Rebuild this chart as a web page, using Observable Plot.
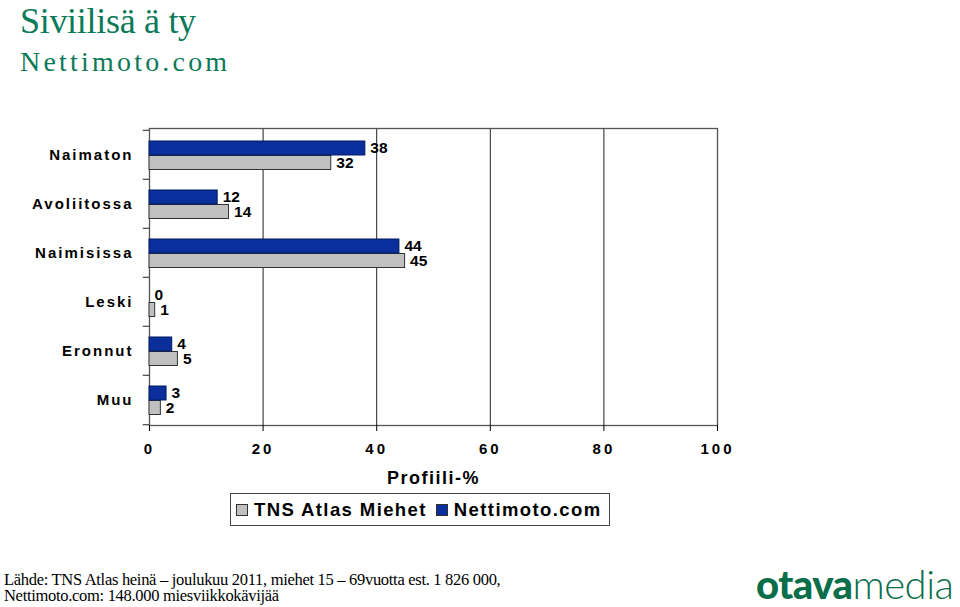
<!DOCTYPE html>
<html><head><meta charset="utf-8">
<script src="https://cdn.jsdelivr.net/npm/d3@7"></script>
<script src="https://cdn.jsdelivr.net/npm/@observablehq/plot@0.6"></script>
<style>
body{margin:0;background:#fff;}
#wrap{position:relative;width:960px;height:607px;overflow:hidden;font-family:"Liberation Sans",Arial,sans-serif;color:#000;}
#chart{position:absolute;left:0;top:0;}
.title{position:absolute;left:20px;top:2px;line-height:38px;font-family:"Liberation Serif",serif;color:#0b7a57;font-size:36px;letter-spacing:-0.3px;white-space:pre;}
.subtitle{position:absolute;left:20px;top:46px;line-height:32px;font-family:"Liberation Serif",serif;color:#0b7a57;font-size:28px;letter-spacing:3.2px;white-space:pre;}
.legend{position:absolute;left:230px;top:493px;width:378px;height:31px;border:1px solid #444;font-weight:bold;font-size:18.5px;letter-spacing:1.4px;display:flex;align-items:center;box-sizing:content-box;}
.legend .sw{display:inline-block;width:10px;height:10px;border:1px solid #333;margin:0 6px 0 5px;}
.legend .sw.s1{margin-left:9px;}
.footer{position:absolute;left:4px;top:572px;font-family:"Liberation Serif",serif;font-size:16.5px;line-height:16px;letter-spacing:-0.3px;white-space:pre;}
.logo{position:absolute;left:756px;top:560px;font-family:"Lato","Open Sans",sans-serif;font-size:40px;color:#0a6e4a;letter-spacing:-0.5px;}
.logo b{font-weight:900;}
.logo span{font-weight:300;}
g[aria-label="y-axis tick label"] text{letter-spacing:2px;font-weight:bold;}
g[aria-label="x-axis tick label"] text{letter-spacing:3px;}
g[aria-label="x-axis label"] text{letter-spacing:1.5px;}
g[aria-label="net-values"] text, g[aria-label="tns-values"] text{letter-spacing:2px;}
</style>
</head><body>
<div id="wrap">
  <div id="chart"></div>
  <div class="title" id="title"></div>
  <div class="subtitle" id="subtitle"></div>
  <div class="legend" id="legend"></div>
  <div class="footer" id="footer"></div>
  <div class="logo"><b>otava</b><span>media</span></div>
</div>
<script>
const titleText = "Siviilisä ä ty";
const subtitleText = "Nettimoto.com";
const categories = ["Naimaton", "Avoliitossa", "Naimisissa", "Leski", "Eronnut", "Muu"];
const nettimoto = [38, 12, 44, 0, 4, 3];
const tnsAtlas = [32, 14, 45, 1, 5, 2];
const seriesNames = ["TNS Atlas Miehet", "Nettimoto.com"];
const seriesColors = ["#c0c0c0", "#0a2f9c"];
const xTicks = [0, 20, 40, 60, 80, 100];
const xLabel = "Profiili-%";
const footerLines = [
  "Lähde: TNS Atlas heinä – joulukuu 2011, miehet 15 – 69vuotta est. 1 826 000,",
  "Nettimoto.com: 148.000 miesviikkokävijää"
];

document.getElementById("title").textContent = titleText;
document.getElementById("subtitle").textContent = subtitleText;
document.getElementById("footer").textContent = footerLines.join("\n");
const leg = document.getElementById("legend");
seriesNames.forEach((n, i) => {
  const sw = document.createElement("span");
  sw.className = "sw s" + i;
  sw.style.background = seriesColors[i];
  leg.appendChild(sw);
  const t = document.createElement("span");
  t.textContent = n;
  leg.appendChild(t);
});

const rows = categories.map((c, i) => ({cat: c, net: nettimoto[i], tns: tnsAtlas[i]}));
const bw = (607 - 182 - 128) / categories.length;

const chart = Plot.plot({
  width: 960, height: 607,
  marginLeft: 149, marginRight: 243, marginTop: 128, marginBottom: 182,
  x: {domain: [0, 100]},
  y: {domain: categories, padding: 0, label: null},
  style: {fontFamily: "'Liberation Sans', Arial, sans-serif", fontSize: "14px", color: "#000", background: "transparent"},
  marks: [
    Plot.ruleX(xTicks.slice(1, -1), {stroke: "#222", strokeWidth: 1}),
    Plot.frame({stroke: "#555", strokeWidth: 1.3}),
    Plot.ruleY(categories, {y: d => d, x1: -1.1, x2: 0, dy: -bw / 2, stroke: "#222"}),
    Plot.ruleY([categories[categories.length - 1]], {y: d => d, x1: -1.1, x2: 0, dy: bw / 2, stroke: "#222"}),
    Plot.barX(rows, {x: "tns", y: "cat", fill: seriesColors[0], stroke: "#333", strokeWidth: 1, insetTop: 25.5, insetBottom: 9.5}),
    Plot.barX(rows, {x: "net", y: "cat", fill: seriesColors[1], stroke: "#001a5e", strokeWidth: 1, insetTop: 11, insetBottom: 24}),
    Plot.text(rows, {x: "net", y: "cat", text: d => String(d.net), dx: 5, dy: -6.5, textAnchor: "start", fontWeight: "bold", fontSize: 15.5, ariaLabel: "net-values"}),
    Plot.text(rows, {x: "tns", y: "cat", text: d => String(d.tns), dx: 5, dy: 8.5, textAnchor: "start", fontWeight: "bold", fontSize: 15.5, ariaLabel: "tns-values"}),
    Plot.axisX({ticks: xTicks, tickSize: 6, tickPadding: 12, tickFormat: d => String(d), fontSize: 15, fontWeight: "bold",
      label: xLabel, labelAnchor: "center", labelArrow: "none", labelOffset: 58}),
    Plot.axisY({tickSize: 0, tickPadding: 16, fontSize: 15, label: null})
  ]
});
document.getElementById("chart").appendChild(chart);
const lab = chart.querySelector('g[aria-label="x-axis label"] text');
if (lab) { lab.setAttribute("font-size", "18"); lab.setAttribute("font-weight", "bold"); }
</script>
</body></html>
